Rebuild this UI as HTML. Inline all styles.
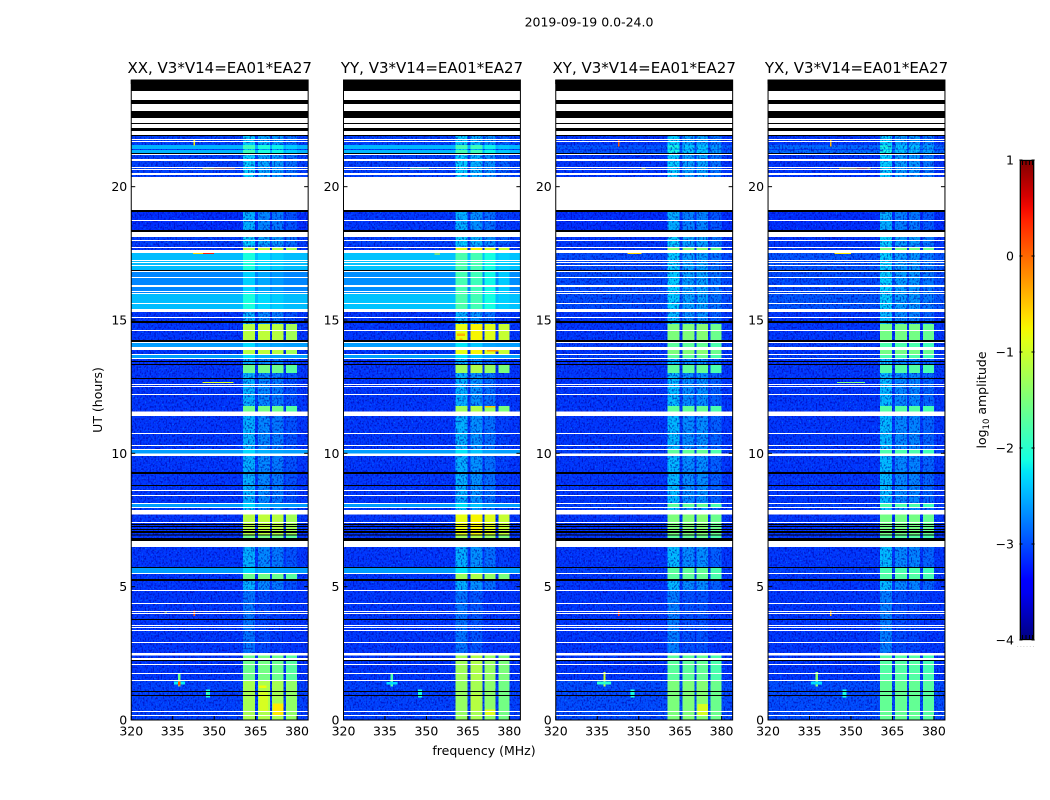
<!DOCTYPE html>
<html>
<head>
<meta charset="utf-8">
<title>2019-09-19 0.0-24.0</title>
<style>
html,body{margin:0;padding:0;background:#fff;}
svg{display:block;}
text{font-family:"DejaVu Sans","Liberation Sans",sans-serif;fill:#000;}
.cell{shape-rendering:crispEdges;}
</style>
</head>
<body>
<svg id="fig" xmlns="http://www.w3.org/2000/svg" width="1050" height="800" viewBox="0 0 1050 800">
  <defs>
    <filter id="grainDark" x="0" y="0" width="100%" height="100%" color-interpolation-filters="sRGB">
      <feTurbulence type="fractalNoise" baseFrequency="0.62 0.48" numOctaves="1" seed="4"/>
      <feColorMatrix type="matrix" values="0 0 0 0 0  0 0 0 0 0  0 0 0 0 0.66  5 0 0 0 -2.4"/>
    </filter>
    <filter id="grainLight" x="0" y="0" width="100%" height="100%" color-interpolation-filters="sRGB">
      <feTurbulence type="fractalNoise" baseFrequency="0.66 0.5" numOctaves="1" seed="11"/>
      <feColorMatrix type="matrix" values="0 0 0 0 0  0 0 0 0 0.62  0 0 0 0 1  0 5 0 0 -3.0"/>
    </filter>
    <linearGradient id="jetGrad" x1="0" y1="0" x2="0" y2="1"></linearGradient>
  </defs>
  <text x="589" y="26.5" font-size="12.5" text-anchor="middle">2019-09-19 0.0-24.0</text>
  <text x="484" y="755" font-size="12.5" text-anchor="middle">frequency (MHz)</text>
  <text x="0" y="0" font-size="12.5" text-anchor="middle" transform="translate(102,400) rotate(-90)">UT (hours)</text>
  <text x="0" y="0" font-size="12.5" text-anchor="middle" transform="translate(986,400) rotate(-90)">log<tspan font-size="8.5" dy="3">10</tspan><tspan dy="-3"> amplitude</tspan></text>
  <text x="1017" y="647" font-size="5" letter-spacing="1.5" fill="#777" style="fill:#777">......</text>
  <g id="panels"></g>
  <g id="cbar"></g>
</svg>
<script>
// ---- data ----
const panelTitles = ['XX, V3*V14=EA01*EA27','YY, V3*V14=EA01*EA27','XY, V3*V14=EA01*EA27','YX, V3*V14=EA01*EA27'];
const xTicks = [320,335,350,365,380];
const yTicks = [0,5,10,15,20];
const cbarTicks = [1,0,-1,-2,-3,-4];
const freqMin = 320, freqMax = 384, hourMin = 0, hourMax = 24, levelMin = -4, levelMax = 1;
// spectral windows in MHz
const windowStart = [360.5,365.9,371.0,376.0];
const windowEnd   = [364.8,370.2,375.0,380.0];
// per-panel level offset for each window
const windowTrimXX = [0,0.05,0,-0.12];
const windowTrimYY = [0,0.1,-0.05,-0.2];
const windowTrimXY = [0,0.02,0.05,-0.1];
const windowTrimYX = [0,0,0,-0.08];
// extra offset of each window in rows with faint windows
const faintTrim = [0.15,-0.1,-0.12,-0.2];
// row kinds; K = black (no data), W = white (flagged)
const kinds = ['Q','P','T','U','C','D','H','S','G','Y','A'];
// background log10 amplitude per kind
const bgXX = [-3.1,-3.1,-3.05,-2.5,-2.45,-2.72,-3.15,-3.1,-3.1,-3.05,-2.6];
const bgYY = [-3.1,-3.1,-3.05,-2.48,-2.42,-2.68,-3.1,-3.1,-3.1,-3.05,-2.6];
const bgXY = [-3.1,-3.1,-3.1,-2.95,-3.0,-3.0,-3.15,-3.1,-3.1,-3.0,-3.05];
const bgYX = [-3.1,-3.1,-3.1,-2.85,-2.95,-3.0,-3.15,-3.1,-3.1,-3.0,-3.05];
// window log10 amplitude per kind
const winXX = [-2.65,-2.95,-2.5,-2.05,-2.25,-2.5,-2.65,-1.15,-1.6,-1.25,-2.45];
const winYY = [-2.65,-2.95,-2.5,-2.0,-1.95,-1.98,-2.65,-0.85,-1.3,-1.35,-2.4];
const winXY = [-2.6,-2.9,-2.5,-2.3,-2.5,-2.5,-2.65,-1.5,-1.7,-1.5,-1.7];
const winYX = [-2.6,-2.9,-2.5,-2.3,-2.5,-2.5,-2.65,-1.55,-1.75,-1.65,-1.8];
// rows: UT at the top edge of each band, and its kind
const rows = [
[24.00,'K'],[23.59,'W'],[23.25,'K'],[23.10,'W'],[22.84,'K'],[22.58,'W'],[22.39,'K'],[22.35,'W'],[22.20,'K'],[22.09,'W'],
[21.94,'K'],[21.90,'T'],[21.79,'W'],[21.75,'T'],[21.71,'W'],[21.68,'T'],[21.56,'U'],[21.41,'T'],[21.38,'U'],[21.26,'K'],
[21.23,'W'],[21.19,'T'],[21.04,'W'],[20.96,'T'],[20.74,'W'],[20.70,'T'],[20.66,'W'],[20.63,'T'],[20.51,'W'],[20.44,'T'],
[20.36,'W'],[19.13,'K'],[19.05,'H'],[18.75,'W'],[18.71,'H'],[18.38,'K'],[18.30,'W'],[18.11,'T'],[18.00,'W'],[17.96,'T'],
[17.81,'Q'],[17.74,'W'],[17.70,'S'],[17.63,'W'],[17.51,'C'],[17.25,'W'],[17.21,'C'],[17.18,'W'],[17.14,'C'],[17.06,'W'],
[17.03,'C'],[16.88,'K'],[16.84,'W'],[16.80,'D'],[16.61,'W'],[16.58,'D'],[16.31,'W'],[16.24,'D'],[16.09,'W'],[16.05,'D'],
[16.01,'W'],[15.98,'C'],[15.64,'W'],[15.60,'C'],[15.41,'W'],[15.30,'Q'],[15.11,'W'],[15.08,'Q'],[14.96,'K'],[14.89,'Q'],
[14.85,'S'],[14.63,'W'],[14.59,'S'],[14.25,'K'],[14.18,'W'],[14.14,'A'],[13.99,'W'],[13.88,'S'],[13.73,'W'],[13.69,'A'],
[13.58,'W'],[13.54,'Q'],[13.46,'K'],[13.43,'Q'],[13.35,'K'],[13.31,'G'],[13.01,'Q'],[12.83,'K'],[12.79,'Q'],[12.60,'W'],
[12.56,'Q'],[12.53,'W'],[12.49,'Q'],[12.23,'W'],[12.19,'Q'],[11.78,'G'],[11.57,'W'],[11.40,'Q'],[10.76,'W'],[10.73,'Q'],
[10.31,'W'],[10.28,'Q'],[10.16,'W'],[10.13,'A'],[9.99,'W'],[9.90,'Q'],[9.30,'K'],[9.23,'Q'],[8.81,'K'],[8.78,'Q'],
[8.63,'W'],[8.59,'Q'],[8.44,'W'],[8.40,'Q'],[8.14,'W'],[8.10,'A'],[7.99,'W'],[7.95,'Q'],[7.88,'W'],[7.71,'S'],
[7.43,'W'],[7.39,'S'],[7.35,'K'],[7.31,'S'],[7.28,'K'],[7.24,'S'],[7.16,'K'],[7.13,'S'],[7.09,'K'],[7.01,'S'],
[6.96,'K'],[6.92,'G'],[6.83,'K'],[6.71,'W'],[6.49,'Q'],[5.74,'K'],[5.70,'A'],[5.51,'W'],[5.48,'G'],[5.29,'K'],
[5.21,'Q'],[4.88,'W'],[4.84,'P'],[4.39,'W'],[4.35,'P'],[4.09,'W'],[4.05,'P'],[4.01,'W'],[3.98,'P'],[3.79,'K'],
[3.75,'P'],[3.56,'W'],[3.53,'P'],[3.49,'W'],[3.45,'P'],[3.38,'W'],[3.34,'P'],[2.93,'W'],[2.89,'P'],[2.51,'W'],
[2.42,'G'],[2.33,'W'],[2.25,'K'],[2.21,'G'],[2.10,'W'],[2.06,'G'],[1.76,'W'],[1.73,'G'],[1.50,'W'],[1.46,'Y'],
[1.09,'K'],[1.05,'Y'],[0.94,'K'],[0.90,'Y'],[0.34,'W'],[0.30,'Y'],[0.19,'W'],[0.15,'Y']
];
// narrow-band interference: panel, f0, f1, h0, h1, level
const rfi = [
[0,345.7,350,20.68,20.72,-0.75],[0,350,357.6,20.68,20.72,-0.1],[0,342.4,350,17.47,17.51,-0.6],[0,346,350,17.47,17.51,0.4],
[0,345.7,357,12.64,12.68,-0.9],[0,342.5,343,21.55,21.75,-0.7],[0,335.5,339.5,1.33,1.44,-2.2],[0,337,337.9,1.25,1.75,-1.6],[0,337,337.9,1.3,1.45,0.1],
[0,347,348.5,0.85,1.15,-2.1],[0,347,347.5,0.98,1.04,-1.4],[0,366.2,369.4,0.3,1.05,-0.95],[0,371.2,375,0.15,0.62,-0.7],[0,366.2,369,1.2,1.3,-0.8],
[0,342.5,343,3.9,4.1,0.1],[0,332,333,4.0,4.04,-1],
[1,344,351,20.68,20.72,-1.6],[1,353,355,17.46,17.5,-0.8],[1,337,337.9,1.25,1.75,-1.8],[1,335.5,339.5,1.33,1.43,-2.3],[1,347,348.4,0.85,1.15,-2.1],
[1,366.2,369.4,0.3,1.0,-1.15],[1,371.2,375,0.15,0.4,-0.9],[1,362,363,14.2,14.3,-0.4],[1,372,376,13.82,13.9,-0.3],[1,371.2,375,11.72,11.78,-0.5],[1,361,364,14.4,14.5,-0.4],
[2,342.5,343,21.5,21.75,0.1],[2,342.5,343,3.9,4.1,0.3],[2,346,351,17.48,17.52,-0.6],[2,337.2,338,1.25,1.8,-1.0],[2,335,340,1.33,1.44,-2.0],[2,347,348.4,0.85,1.15,-2.1],
[2,351,352.5,20.68,20.72,-0.8],[2,371.2,375,0.15,0.6,-0.95],
[3,342.5,343,21.5,21.75,-0.4],[3,342.5,343,3.9,4.1,-0.4],[3,345.7,357,20.68,20.72,-0.7],[3,352,356,20.68,20.72,0],[3,344,350,17.48,17.52,-0.7],
[3,337.2,338,1.25,1.8,-1.4],[3,335.5,339.5,1.33,1.44,-2.3],[3,347,348.4,0.85,1.15,-2.1],[3,345,355,12.64,12.68,-1.5]
];
const bgLevels = [bgXX,bgYY,bgXY,bgYX];
const winLevels = [winXX,winYY,winXY,winYX];
const winTrims = [windowTrimXX,windowTrimYY,windowTrimXY,windowTrimYX];

// ---- geometry ----
const panelLeft = [131.25,343.5,555.75,768.05];
const panelWidth = 176.9, plotTop = 80, plotBottom = 720;
const SVGNS = 'http://www.w3.org/2000/svg';
function xOf(i,f){ return panelLeft[i] + (f-freqMin)/(freqMax-freqMin)*panelWidth; }
function yOf(h){ return plotBottom - (h-hourMin)/(hourMax-hourMin)*(plotBottom-plotTop); }
function ramp(pts,t){
  for(let i=1;i<pts.length;i++){
    if(t<=pts[i][0]){
      const a=pts[i-1], b=pts[i];
      return a[1]+(b[1]-a[1])*(t-a[0])/(b[0]-a[0]);
    }
  }
  return pts[pts.length-1][1];
}
const jetR=[[0,0],[0.35,0],[0.66,1],[0.89,1],[1,0.5]];
const jetG=[[0,0],[0.125,0],[0.375,1],[0.64,1],[0.91,0],[1,0]];
const jetB=[[0,0.5],[0.11,1],[0.34,1],[0.65,0],[1,0]];
function jet(level){
  const t=Math.max(0,Math.min(1,(level-levelMin)/(levelMax-levelMin)));
  return 'rgb('+Math.round(255*ramp(jetR,t))+','+Math.round(255*ramp(jetG,t))+','+Math.round(255*ramp(jetB,t))+')';
}
function cell(parent,name,x0,x1,y0,y1,fill){
  const r=document.createElementNS(SVGNS,'rect');
  
  
  r.setAttribute('class','cell');
  r.setAttribute('x',x0.toFixed(2));
  r.setAttribute('y',y0.toFixed(2));
  r.setAttribute('width',(x1-x0).toFixed(2));
  r.setAttribute('height',(y1-y0).toFixed(2));
  r.setAttribute('fill',fill);
  parent.appendChild(r);
  return r;
}
function tick(parent,name,x1,y1,x2,y2){
  const l=document.createElementNS(SVGNS,'line');
  
  
  l.setAttribute('x1',x1);
  l.setAttribute('y1',y1);
  l.setAttribute('x2',x2);
  l.setAttribute('y2',y2);
  l.setAttribute('stroke','#000');
  l.setAttribute('stroke-width','1');
  parent.appendChild(l);
}
function label(parent,name,x,y,str,anchor,size){
  const t=document.createElementNS(SVGNS,'text');
  
  
  t.setAttribute('x',x);
  t.setAttribute('y',y);
  t.setAttribute('text-anchor',anchor);
  t.setAttribute('font-size',size);
  t.textContent=str;
  parent.appendChild(t);
}
const panelsRoot=document.getElementById('panels');
panelTitles.forEach(function(title,p){
  const g=document.createElementNS(SVGNS,'g');
  
  
  panelsRoot.appendChild(g);
  const L=panelLeft[p], R=L+panelWidth;
  const late=[], masks=[];
  rows.forEach(function(row,i){
    const top=row[0], bottom=i+1<rows.length?rows[i+1][0]:hourMin, kind=row[1];
    if(kind==='K'||kind==='W'){ masks.push([top,bottom,kind]); return; }
    const k=kinds.indexOf(kind);
    const y0=yOf(top), y1=yOf(bottom);
    const bg=bgLevels[p][k];
    // bright rows are drawn above the noise texture because they look smooth
    const smooth=bg>-2.8;
    if(smooth){ late.push(['heatmap-background-cell',L,R,y0,y1,bg]); }
    else { cell(g,'heatmap-background-cell',L,R,y0,y1,jet(bg)); }
    windowStart.forEach(function(f0,w){
      const lev=winLevels[p][k]+winTrims[p][w];
      const x0=xOf(p,f0), x1=xOf(p,windowEnd[w]);
      if(lev>-1.95){ late.push(['heatmap-window-cell',x0,x1,y0,y1,lev]); }
      else {
        const faint=Math.max(lev+faintTrim[w],bg);
        if(smooth){ late.push(['heatmap-window-cell',x0,x1,y0,y1,faint]); }
        else { cell(g,'heatmap-window-cell',x0,x1,y0,y1,jet(faint)); }
      }
    });
  });
  // receiver noise texture
  const dark=cell(g,'noise-texture-dark',L,R,plotTop,plotBottom,'#000');
  dark.setAttribute('filter','url(#grainDark)');
  dark.setAttribute('opacity','0.6');
  const light=cell(g,'noise-texture-light',L,R,plotTop,plotBottom,'#000');
  light.setAttribute('filter','url(#grainLight)');
  light.setAttribute('opacity','0.5');
  late.forEach(function(s){
    cell(g,s[0],s[1],s[2],s[3],s[4],jet(s[5]));
  });
  rfi.forEach(function(s){
    if(s[0]!==p) return;
    cell(g,'rfi-feature',xOf(p,s[1]),xOf(p,s[2]),yOf(s[4]),yOf(s[3]),jet(s[5]));
  });
  masks.forEach(function(m){
    cell(g,m[2]==='K'?'no-data-row':'flagged-row',L,R,yOf(m[0]),yOf(m[1]),m[2]==='K'?'#000':'#fff');
  });
  // ticks
  xTicks.forEach(function(v){
    const x=xOf(p,v).toFixed(2);
    tick(g,'x-tick',x,plotBottom,x,plotBottom-4);
    tick(g,'x-tick-top',x,plotTop,x,plotTop+4);
    label(g,'x-tick-label',x,plotBottom+15.5,String(v),'middle',12.5);
  });
  yTicks.forEach(function(v){
    const y=yOf(v).toFixed(2);
    tick(g,'y-tick',L,y,L+4,y);
    tick(g,'y-tick-right',R,y,R-4,y);
    label(g,'y-tick-label',L-4,(yOf(v)+4.5).toFixed(2),String(v),'end',12.5);
  });
  const frame=document.createElementNS(SVGNS,'rect');
  
  
  frame.setAttribute('x',L);
  frame.setAttribute('y',plotTop);
  frame.setAttribute('width',panelWidth);
  frame.setAttribute('height',plotBottom-plotTop);
  frame.setAttribute('fill','none');
  frame.setAttribute('stroke','#000');
  frame.setAttribute('stroke-width','1');
  g.appendChild(frame);
  label(g,'panel-title',L+panelWidth/2,73,title,'middle',15);
});
// colorbar
const cbarX=1019.5, cbarW=15, cbarTop=160, cbarBottom=640;
const grad=document.getElementById('jetGrad');
for(let i=0;i<=40;i++){
  const s=document.createElementNS(SVGNS,'stop');
  s.setAttribute('offset',(i/40).toFixed(3));
  s.setAttribute('stop-color',jet(levelMax-(levelMax-levelMin)*i/40));
  grad.appendChild(s);
}
const cb=document.getElementById('cbar');
const bar=document.createElementNS(SVGNS,'rect');


bar.setAttribute('x',cbarX);
bar.setAttribute('y',cbarTop);
bar.setAttribute('width',cbarW);
bar.setAttribute('height',cbarBottom-cbarTop);
bar.setAttribute('fill','url(#jetGrad)');
bar.setAttribute('stroke','#aaa');
cb.appendChild(bar);
const edge=document.createElementNS(SVGNS,'rect');


edge.setAttribute('x',cbarX+1);
edge.setAttribute('y',cbarTop+0.5);
edge.setAttribute('width',cbarW-2);
edge.setAttribute('height',cbarBottom-cbarTop-1);
edge.setAttribute('fill','none');
edge.setAttribute('stroke','#000');
cb.appendChild(edge);
cbarTicks.forEach(function(v){
  const y=cbarBottom-(v-levelMin)/(levelMax-levelMin)*(cbarBottom-cbarTop);
  tick(cb,'colorbar-tick',cbarX,y,cbarX+3,y);
  tick(cb,'colorbar-tick-right',cbarX+cbarW,y,cbarX+cbarW-3,y);
  label(cb,'colorbar-tick-label',1014,(y+4.5).toFixed(2),String(v).replace('-','\u2212'),'end',12.5);
});
[3,6.5,10,13].forEach(function(dx){
  tick(cb,'colorbar-minor-tick',cbarX+dx,cbarTop,cbarX+dx,cbarTop+5);
  tick(cb,'colorbar-minor-tick',cbarX+dx,cbarBottom,cbarX+dx,cbarBottom-5);
});
</script>
</body>
</html>
